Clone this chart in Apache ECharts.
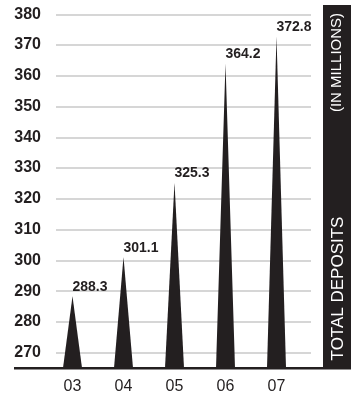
<!DOCTYPE html>
<html>
<head>
<meta charset="utf-8">
<script src="https://cdn.jsdelivr.net/npm/echarts@6/dist/echarts.min.js"></script>
<style>
  html, body { margin: 0; padding: 0; background: #ffffff; }
  #chart { width: 351px; height: 399px; }
</style>
</head>
<body>
<div id="chart"></div>
<script>
// Fiscal years and total deposits (in millions)
const years = ['03', '04', '05', '06', '07'];
const deposits = [288.3, 301.1, 325.3, 364.2, 372.8];

// Value range of the vertical scale
const yMin = 265;
const yMax = 380;
const yStep = 5;

const ink = '#231f20';
const font = 'Liberation Sans, Arial, Helvetica, sans-serif';
const spikeHalfWidth = 9.5;

const chart = echarts.init(document.getElementById('chart'), null, { renderer: 'canvas' });

// Each year is a spike rising from the scale floor to its value, labelled at the tip
function renderSpike(params, api) {
  const idx = api.value(0);
  const val = api.value(1);
  const tip = api.coord([idx, val]);
  const base = api.coord([idx, yMin]);
  return {
    type: 'group',
    children: [
      {
        type: 'polygon',
        shape: {
          points: [
            [base[0] - spikeHalfWidth, base[1]],
            [tip[0], tip[1]],
            [base[0] + spikeHalfWidth, base[1]]
          ]
        },
        style: { fill: ink }
      },
      {
        type: 'text',
        x: tip[0],
        y: tip[1] - 2,
        style: {
          text: val.toFixed(1),
          fill: ink,
          font: 'bold 14px ' + font,
          align: 'left',
          verticalAlign: 'bottom'
        }
      }
    ]
  };
}

chart.setOption({
  animation: false,
  backgroundColor: '#ffffff',
  grid: [
    // gridlines + value labels
    { left: 56, right: 40, top: 14.3, bottom: 31 },
    // spikes + year labels
    { left: 47, right: 49, top: 14.3, bottom: 31 }
  ],
  xAxis: [
    { gridIndex: 0, type: 'category', data: years, show: false },
    {
      gridIndex: 1, type: 'category', data: years,
      axisLine: { show: false },
      axisTick: { show: false },
      axisLabel: { color: ink, fontFamily: font, fontSize: 16, margin: 11 }
    }
  ],
  yAxis: [
    {
      gridIndex: 0, type: 'value', min: yMin, max: yMax, interval: yStep,
      axisLine: { show: false },
      axisTick: { show: false },
      axisLabel: {
        color: ink, fontFamily: font, fontSize: 16, fontWeight: 'bold', margin: 15,
        formatter: v => (v % 10 === 0 ? String(v) : '')
      },
      splitLine: { lineStyle: { color: ['rgba(0,0,0,0)', '#c9c9c9'], width: 1.6 } }
    },
    { gridIndex: 1, type: 'value', min: yMin, max: yMax, interval: yStep, show: false }
  ],
  series: [
    {
      type: 'custom',
      xAxisIndex: 1,
      yAxisIndex: 1,
      data: deposits.map((v, i) => [i, v]),
      renderItem: renderSpike,
      clip: false,
      z: 3
    }
  ],
  graphic: [
    // baseline
    {
      type: 'line', z: 10,
      shape: { x1: 14, y1: 368.3, x2: 323, y2: 368.3 },
      style: { stroke: ink, lineWidth: 2.4 }
    },
    // side band with the measure title
    {
      type: 'rect', z: 10,
      shape: { x: 323, y: 5, width: 28, height: 364.5 },
      style: { fill: ink }
    },
    {
      type: 'text', z: 11,
      x: 338, y: 288.5, rotation: Math.PI / 2,
      style: {
        text: 'TOTAL DEPOSITS', fill: '#ffffff', font: '17px ' + font,
        align: 'center', verticalAlign: 'middle'
      }
    },
    {
      type: 'text', z: 11,
      x: 336.5, y: 62.5, rotation: Math.PI / 2,
      style: {
        text: '(IN MILLIONS)', fill: '#ffffff', font: '15px ' + font,
        align: 'center', verticalAlign: 'middle'
      }
    }
  ]
});
</script>
</body>
</html>
